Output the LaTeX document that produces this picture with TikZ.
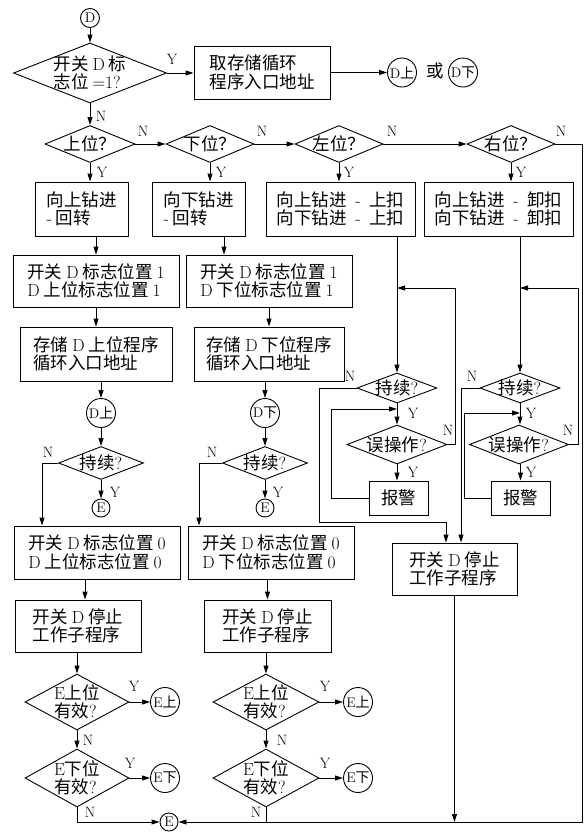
\documentclass[tikz,border=0pt]{standalone}
\usepackage{fontspec}
\newfontfamily\cjk{Noto Sans CJK SC}
\usetikzlibrary{shapes.geometric,arrows.meta}
\newcommand\ltn[1]{{\rmfamily #1}}
\tikzset{
  arr/.style={-{Triangle[length=8pt,width=5pt]}},
  box/.style={draw, rectangle, inner sep=0pt, align=left, font=\cjk\fontsize{17.5}{18.5}\selectfont},
  dec/.style={draw, diamond, inner sep=0pt},
  dtxt/.style={inner sep=0pt, align=left, font=\cjk\fontsize{17.5}{18.5}\selectfont},
  cir/.style={draw, circle, inner sep=0pt, font=\cjk\fontsize{14}{14}\selectfont},
  lab/.style={inner sep=0pt, font=\fontsize{15}{15}\selectfont},
}
\begin{document}
\begin{tikzpicture}[x=1pt,y=-1pt,line width=0.9pt]
\useasboundingbox (0,0) rectangle (587,833);

% ---- top
\node[cir, minimum size=19, font=\fontsize{14}{14}\selectfont] (D0) at (90,18) {D};
\node[dec, minimum width=153, minimum height=60] (d1) at (90,73) {};
\node[dtxt] (d1t) at (d1) {开关 \ltn{D} 标\\志位 \ltn{=1?}};
\node[box, minimum width=136, minimum height=53] (b1) at (262,72.5) {取存储循环\\程序入口地址};
\node[cir, minimum size=29] (cA) at (402,72.5) {\ltn{D}上};
\node[dtxt] (huo) at (435,71) {或};
\node[cir, minimum size=29] (cB) at (463,72.5) {\ltn{D}下};

% ---- position decisions
\node[dec, minimum width=90, minimum height=37] (dUp) at (90,144) {};
\node[dtxt] (dUpt) at (dUp) {上位？};
\node[dec, minimum width=88, minimum height=37] (dDn) at (210,144) {};
\node[dtxt] (dDnt) at (dDn) {下位？};
\node[dec, minimum width=88, minimum height=37] (dL) at (339,144) {};
\node[dtxt] (dLt) at (dL) {左位？};
\node[dec, minimum width=88, minimum height=37] (dR) at (511,144) {};
\node[dtxt] (dRt) at (dR) {右位？};

% ---- first boxes
\node[box, minimum width=93, minimum height=54] (bUp1) at (81.5,209) {向上钻进\\\ltn{-} 回转};
\node[box, minimum width=93, minimum height=54] (bDn1) at (198.5,209) {向下钻进\\\ltn{-} 回转};
\node[box, minimum width=149, minimum height=54] (bL1) at (340.5,209) {向上钻进\ltn{\enspace-\enspace}上扣\\向下钻进\ltn{\enspace-\enspace}上扣};
\node[box, minimum width=149, minimum height=54] (bR1) at (498.5,209) {向上钻进\ltn{\enspace-\enspace}卸扣\\向下钻进\ltn{\enspace-\enspace}卸扣};

% ---- column 1 and 2
\node[box, minimum width=166, minimum height=52] (bUp2) at (96,281) {开关 \ltn{D} 标志位置 \ltn{1}\\\ltn{D} 上位标志位置 \ltn{1}};
\node[box, minimum width=166, minimum height=52] (bDn2) at (269,281) {开关 \ltn{D} 标志位置 \ltn{1}\\\ltn{D} 下位标志位置 \ltn{1}};
\node[box, minimum width=152, minimum height=54] (bUp3) at (96,354) {存储 \ltn{D} 上位程序\\循环入口地址};
\node[box, minimum width=150, minimum height=54] (bDn3) at (269,354) {存储 \ltn{D} 下位程序\\循环入口地址};
\node[cir, minimum size=29] (cDU) at (101,413) {\ltn{D}上};
\node[cir, minimum size=29] (cDD) at (265,413) {\ltn{D}下};
\node[dec, minimum width=85, minimum height=33] (dC1) at (101,463) {};
\node[dtxt] (dC1t) at (dC1) {持续\ltn{?}};
\node[dec, minimum width=85, minimum height=33] (dC2) at (265,463) {};
\node[dtxt] (dC2t) at (dC2) {持续\ltn{?}};
\node[cir, minimum size=18, font=\fontsize{14}{14}\selectfont] (e1) at (101,508) {E};
\node[cir, minimum size=18, font=\fontsize{14}{14}\selectfont] (e2) at (265,508) {E};
\node[box, minimum width=166, minimum height=53] (bUp4) at (97,552.5) {开关 \ltn{D} 标志位置 \ltn{0}\\\ltn{D} 上位标志位置 \ltn{0}};
\node[box, minimum width=166, minimum height=53] (bDn4) at (271,552.5) {开关 \ltn{D} 标志位置 \ltn{0}\\\ltn{D} 下位标志位置 \ltn{0}};
\node[box, minimum width=126, minimum height=52] (bUp5) at (78,626) {开关 \ltn{D} 停止\\工作子程序};
\node[box, minimum width=127, minimum height=52] (bDn5) at (267.5,626) {开关 \ltn{D} 停止\\工作子程序};
\node[dec, minimum width=104, minimum height=56] (dE1) at (77,702) {};
\node[dtxt] (dE1t) at (dE1) {\ltn{E}上位\\有效\ltn{?}};
\node[dec, minimum width=104, minimum height=58] (dE2) at (77,778) {};
\node[dtxt] (dE2t) at (dE2) {\ltn{E}下位\\有效\ltn{?}};
\node[dec, minimum width=106, minimum height=56] (dE3) at (266,702) {};
\node[dtxt] (dE3t) at (dE3) {\ltn{E}上位\\有效\ltn{?}};
\node[dec, minimum width=106, minimum height=58] (dE4) at (266,778) {};
\node[dtxt] (dE4t) at (dE4) {\ltn{E}下位\\有效\ltn{?}};
\node[cir, minimum size=29] (cE1) at (165,702) {\ltn{E}上};
\node[cir, minimum size=29] (cE2) at (165,778) {\ltn{E}下};
\node[cir, minimum size=29] (cE3) at (358,702) {\ltn{E}上};
\node[cir, minimum size=29] (cE4) at (358,778) {\ltn{E}下};
\node[cir, minimum size=18, font=\fontsize{14}{14}\selectfont] (cF) at (169,822) {E};

% ---- column 3 and 4
\node[dec, minimum width=80, minimum height=30] (dC3) at (397,388) {};
\node[dtxt] (dC3t) at (dC3) {持续\ltn{?}};
\node[dec, minimum width=100, minimum height=39] (dM3) at (397,444.5) {};
\node[dtxt] (dM3t) at (dM3) {误操作\ltn{?}};
\node[box, minimum width=59, minimum height=34] (bA3) at (398.5,498) {报警};
\node[dec, minimum width=80, minimum height=30] (dC4) at (520,388) {};
\node[dtxt] (dC4t) at (dC4) {持续\ltn{?}};
\node[dec, minimum width=99, minimum height=39] (dM4) at (519,444.5) {};
\node[dtxt] (dM4t) at (dM4) {误操作\ltn{?}};
\node[box, minimum width=59, minimum height=34] (bA4) at (520.5,498) {报警};
\node[box, minimum width=125, minimum height=52] (bS) at (454.5,569) {开关 \ltn{D} 停止\\工作子程序};

\coordinate (j3) at (397,288);
\coordinate (j4) at (520,288);
\coordinate (k3) at (397,409);
\coordinate (k4) at (520,413);
\coordinate (m3) at (319,522);
\coordinate (rb) at (582,822);

% ---- connectors top
\draw[arr] (D0.south) -- (d1.north);
\draw[arr] (d1.east) -- (d1.east -| b1.west);
\draw[arr] (b1.east) -- (cA.west);
\draw[arr] (d1.south) -- (dUp.north);
\draw[arr] (dUp.east) -- (dDn.west);
\draw[arr] (dDn.east) -- (dL.west);
\draw[arr] (dL.east) -- (dR.west);
\draw[arr] (dR.east) -| (rb) -- (cF.east);

% column 1
\draw[arr] (dUp.south) -- (dUp.south |- bUp1.north);
\draw[arr] (bUp2.north |- bUp1.south) -- (bUp2.north);
\draw[arr] (bUp2.south) -- (bUp3.north);
\draw[arr] (bUp3.south -| cDU) -- (cDU.north);
\draw[arr] (cDU.south) -- (dC1.north);
\draw[arr] (dC1.south) -- (e1.north);
\draw[arr] (dC1.west) -| ([xshift=-55pt]bUp4.north);
\draw[arr] ([xshift=-12pt]bUp4.south) -- ([xshift=-12pt]bUp4.south |- bUp5.north);
\draw[arr] (dE1.north |- bUp5.south) -- (dE1.north);
\draw[arr] (dE1.south) -- (dE2.north);
\draw[arr] (dE1.east) -- (cE1.west);
\draw[arr] (dE2.east) -- (cE2.west);
\draw[arr] (dE2.south) |- (cF.west);

% column 2
\draw[arr] (dDn.south) -- (dDn.south |- bDn1.north);
\draw[arr] ([xshift=25.5pt]bDn1.south) -- ([xshift=25.5pt]bDn1.south |- bDn2.north);
\draw[arr] (bDn2.south) -- (bDn3.north);
\draw[arr] (bDn3.south -| cDD) -- (cDD.north);
\draw[arr] (cDD.south) -- (dC2.north);
\draw[arr] (dC2.south) -- (e2.north);
\draw[arr] (dC2.west) -| ([xshift=-72pt]bDn4.north);
\draw[arr] (bDn5.north |- bDn4.south) -- (bDn5.north);
\draw[arr] (dE3.north |- bDn5.south) -- (dE3.north);
\draw[arr] (dE3.south) -- (dE4.north);
\draw[arr] (dE3.east) -- (cE3.west);
\draw[arr] (dE4.east) -- (cE4.west);
\draw (dE4.south) -- (dE4.south |- cF);

% column 3
\draw[arr] (dL.south) -- (dL.south |- bL1.north);
\draw[arr] (bL1.south -| dC3) -- (dC3.north);
\draw[arr] (dC3.south) -- (dM3.north);
\draw[arr] (dM3.south) -- (dM3.south |- bA3.north);
\draw[arr] (dM3.east) -- ++(8,0) |- (j3);
\draw[arr] (bA3.west) -- ++(-37,0) |- (k3);
\draw[arr] (dC3.west) -| (m3) -| ([xshift=-8.5pt]bS.north);

% column 4
\draw[arr] (dR.south) -- (dR.south |- bR1.north);
\draw[arr] (bR1.south -| dC4) -- (dC4.north);
\draw[arr] (dC4.south) -- (dM4.north -| dC4.south);
\draw[arr] (dM4.south -| bA4.north) -- (bA4.north);
\draw[arr] (dM4.east) -- ++(9,0) |- (j4);
\draw[arr] (bA4.west) -- ++(-26,0) |- (k4);
\draw[arr] (dC4.west) -| ([xshift=6.5pt]bS.north);
\draw[arr] (bS.south) -- (bS.south |- cF);

% ---- labels
\node[lab] (l1) at (172,59) {Y};
\node[lab] (l2) at (101,116) {N};
\node[lab] (l3) at (143,131) {N};
\node[lab] (l4) at (262,131) {N};
\node[lab] (l5) at (392,131) {N};
\node[lab] (l6) at (561,131) {N};
\node[lab] (l7) at (102,172) {Y};
\node[lab] (l8) at (221,172) {Y};
\node[lab] (l9) at (349,172) {Y};
\node[lab] (l10) at (521,172) {Y};
\node[lab] (l11) at (48,452) {N};
\node[lab] (l12) at (115,492) {Y};
\node[lab] (l13) at (212,452) {N};
\node[lab] (l14) at (278,492) {Y};
\node[lab] (l15) at (134,686) {Y};
\node[lab] (l16) at (88,740) {N};
\node[lab] (l17) at (130,763) {Y};
\node[lab] (l18) at (90,812) {N};
\node[lab] (l19) at (325,686) {Y};
\node[lab] (l20) at (282,740) {N};
\node[lab] (l21) at (325,763) {Y};
\node[lab] (l22) at (256,812) {N};
\node[lab] (l23) at (350,376) {N};
\node[lab] (l24) at (413,413) {Y};
\node[lab] (l25) at (448,430) {N};
\node[lab] (l26) at (413,472) {Y};
\node[lab] (l27) at (472,376) {N};
\node[lab] (l28) at (531,413) {Y};
\node[lab] (l29) at (568,430) {N};
\node[lab] (l30) at (531,472) {Y};
\end{tikzpicture}
\end{document}
